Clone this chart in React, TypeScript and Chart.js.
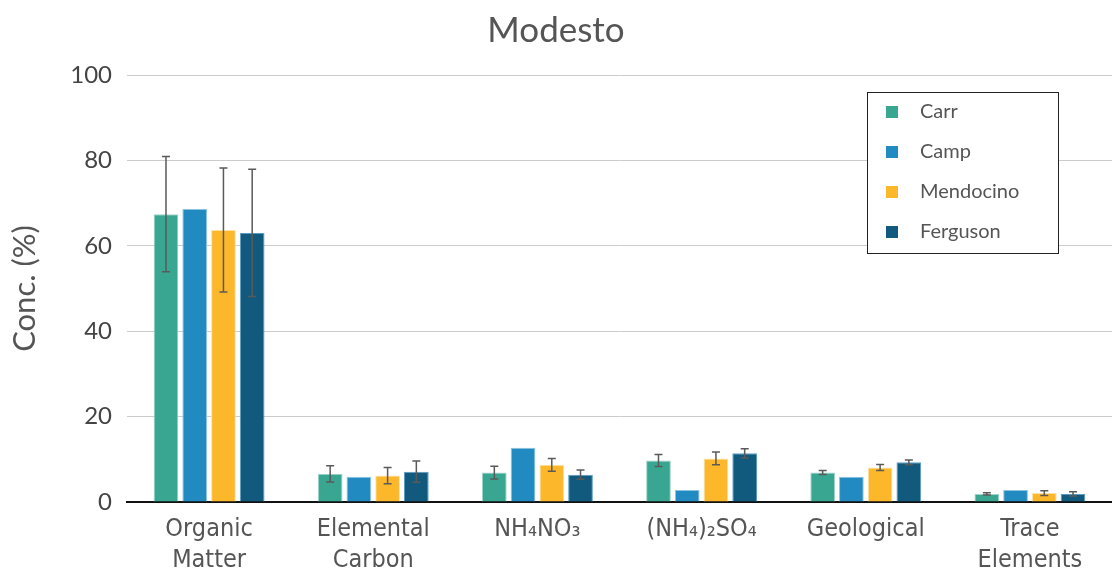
import React, { useEffect, useRef } from "react";
import { Chart, registerables } from "chart.js";

Chart.register(...registerables);

const categories: string[][] = [
  ["Organic", "Matter"],
  ["Elemental", "Carbon"],
  ["NH₄NO₃"],
  ["(NH₄)₂SO₄"],
  ["Geological"],
  ["Trace", "Elements"],
];

const seriesNames = ["Carr", "Camp", "Mendocino", "Ferguson"];

const carr = [67.4, 6.6, 6.9, 9.7, 6.9, 1.9];
const camp = [68.6, 5.9, 12.7, 2.8, 5.9, 2.8];
const mendocino = [63.7, 6.2, 8.7, 10.2, 8.1, 2.1];
const ferguson = [63.0, 7.1, 6.4, 11.4, 9.3, 1.9];

const carrErr = [13.5, 1.9, 1.5, 1.4, 0.45, 0.25];
const campErr: (number | null)[] = [null, null, null, null, null, null];
const mendocinoErr = [14.5, 1.9, 1.5, 1.5, 0.7, 0.55];
const fergusonErr = [14.9, 2.5, 1.1, 1.1, 0.55, 0.5];

const yTicks = [0, 20, 40, 60, 80, 100];

const fillColors = ["#38a691", "#218ac0", "#fdb72b", "#115a7e"];
const edgeColors = ["#9fd3c8", "#8cc3e0", "#fde2a8", "#5b9cc4"];

const errors = [carrErr, campErr, mendocinoErr, fergusonErr];
const values = [carr, camp, mendocino, ferguson];

const FONT = "Lato, 'Open Sans', sans-serif";
const NARROW = "'Liberation Sans Narrow', 'DejaVu Sans Condensed', Lato, sans-serif";

const errorBarPlugin = {
  id: "errorBars",
  afterDatasetsDraw(chart: any) {
    const ctx = chart.ctx;
    const yScale = chart.scales.y;
    ctx.save();
    ctx.strokeStyle = "#5a5a5a";
    ctx.lineWidth = 1.5;
    chart.data.datasets.forEach((ds: any, i: number) => {
      const meta = chart.getDatasetMeta(i);
      meta.data.forEach((el: any, j: number) => {
        const e = errors[i][j];
        if (e == null) return;
        const v = values[i][j];
        const x = el.x;
        const yT = yScale.getPixelForValue(v + e);
        const yB = yScale.getPixelForValue(v - e);
        const cap = 4;
        ctx.beginPath();
        ctx.moveTo(x, yT);
        ctx.lineTo(x, yB);
        ctx.moveTo(x - cap, yT);
        ctx.lineTo(x + cap, yT);
        ctx.moveTo(x - cap, yB);
        ctx.lineTo(x + cap, yB);
        ctx.stroke();
      });
    });
    ctx.restore();
  },
};

const legendBoxPlugin = {
  id: "legendBox",
  afterDraw(chart: any) {
    const ctx = chart.ctx;
    const area = chart.chartArea;
    const w = 191;
    const h = 161;
    const x0 = area.right - 54 - w;
    const y0 = area.top + 17;
    ctx.save();
    ctx.fillStyle = "#ffffff";
    ctx.fillRect(x0, y0, w, h);
    ctx.strokeStyle = "#222";
    ctx.lineWidth = 1;
    ctx.strokeRect(x0 + 0.5, y0 + 0.5, w, h);
    ctx.font = `20px ${FONT}`;
    ctx.textBaseline = "middle";
    ctx.textAlign = "left";
    chart.data.datasets.forEach((ds: any, i: number) => {
      const cy = y0 + 20 + i * 40;
      ctx.fillStyle = ds.backgroundColor;
      ctx.fillRect(x0 + 19, cy - 6, 12, 12);
      ctx.fillStyle = "#555";
      ctx.fillText(ds.label, x0 + 53, cy);
    });
    ctx.restore();
  },
};

export default function App() {
  const ref = useRef<HTMLCanvasElement>(null);
  useEffect(() => {
    if (!ref.current) return;
    const chart = new Chart(ref.current, {
      type: "bar",
      data: {
        labels: categories,
        datasets: seriesNames.map((name, i) => ({
          label: name,
          data: values[i],
          backgroundColor: fillColors[i],
          borderColor: edgeColors[i],
          borderWidth: 1,
          categoryPercentage: 0.7,
          barPercentage: 0.86,
        })),
      },
      options: {
        responsive: false,
        animation: false,
        devicePixelRatio: 1,
        layout: { padding: 0 },
        plugins: {
          legend: { display: false },
          tooltip: { enabled: false },
          title: {
            display: true,
            text: "Modesto",
            color: "#555",
            font: { family: FONT, size: 35, weight: "normal" },
            padding: { top: 10, bottom: 23 },
          },
        },
        scales: {
          x: {
            grid: { display: false },
            border: { display: true, color: "#111", width: 2 },
            ticks: {
              color: "#555",
              font: { family: NARROW, size: 25, lineHeight: 1.25 },
              padding: 4,
              maxRotation: 0,
              autoSkip: false,
            },
            afterFit: (s: any) => {
              s.height = 70;
            },
          },
          y: {
            min: 0,
            max: 100,
            afterBuildTicks: (s: any) => {
              s.ticks = yTicks.map((v) => ({ value: v }));
            },
            grid: { color: "#cccccc", lineWidth: 1, drawTicks: false },
            border: { display: false },
            ticks: {
              color: "#444",
              font: { family: FONT, size: 24 },
              padding: 15,
            },
            title: {
              display: true,
              text: "Conc. (%)",
              color: "#555",
              font: { family: FONT, size: 31, weight: "normal" },
              padding: { top: 6, bottom: 0 },
            },
            afterFit: (s: any) => {
              s.width = 127;
            },
          },
        },
      },
      plugins: [errorBarPlugin, legendBoxPlugin],
    });
    return () => chart.destroy();
  }, []);
  return (
    <div style={{ position: "fixed", left: 0, top: 0, width: 1112, height: 572, background: "#fff" }}>
      <canvas ref={ref} width={1112} height={572} style={{ display: "block" }} />
    </div>
  );
}
